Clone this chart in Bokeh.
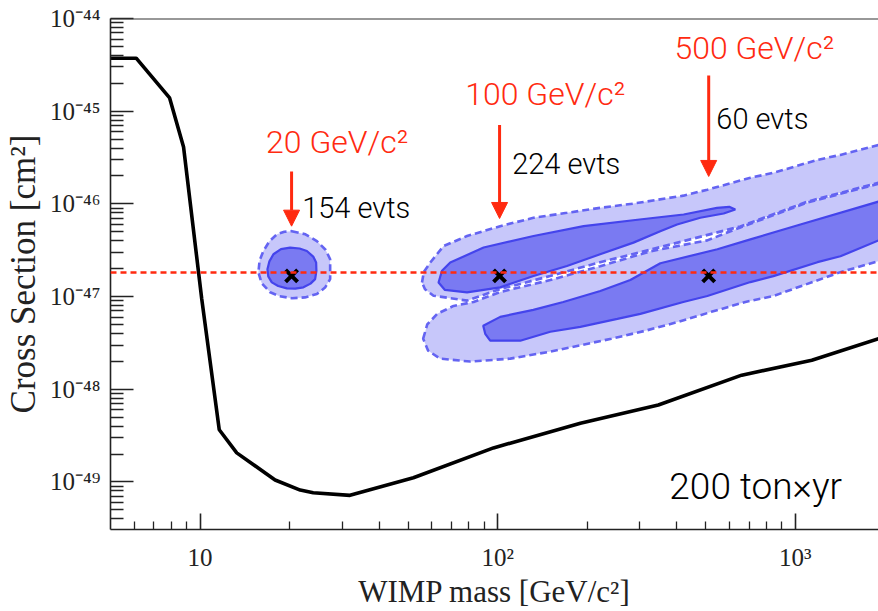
import math
from bokeh.plotting import figure
from bokeh.models import Range1d, FixedTicker, Label, Span, Arrow, NormalHead, ColumnDataSource
from bokeh.embed import file_html
from bokeh.resources import INLINE

# ---------------- data ----------------
X_MIN, X_MAX = 5.0, 1905.0          # WIMP mass range [GeV/c^2]
Y_MIN, Y_MAX = 3.07e-50, 1.0e-44    # cross-section range [cm^2]

# 200 ton x yr sensitivity curve
limit_mass = [5.0, 6.1, 7.9, 8.8, 10.13, 11.6, 13.28, 17.87, 21.7, 24.0, 31.9, 52.1,
              96.8, 189.7, 346.7, 661.0, 1137.0, 1906.0]
limit_sigma = [3.73e-45, 3.73e-45, 1.39e-45, 4.1e-46, 9.4e-48, 3.66e-49, 2.06e-49,
               1.05e-49, 8.18e-50, 7.66e-50, 7.17e-50, 1.11e-49, 2.33e-49, 4.31e-49,
               6.77e-49, 1.42e-48, 2.06e-48, 3.51e-48]

true_sigma = 1.82e-47               # injected cross-section (red dashed)

bench_mass = [20.3, 101.5, 512.0]   # benchmark masses (x markers)
bench_sigma = [1.67e-47, 1.67e-47, 1.67e-47]
bench_labels = ["20 GeV/c\u00b2", "100 GeV/c\u00b2", "500 GeV/c\u00b2"]
bench_events = ["154 evts", "224 evts", "60 evts"]

# 20 GeV/c^2 reconstructed regions
c20_outer_mass = [20.34, 22.6, 24.69, 26.4, 27.36, 27.36, 26.3, 24.69, 22.5, 20.34, 18.5,
                  17.20, 16.1, 15.70, 15.85, 16.32, 17.1, 18.11, 19.2]
c20_outer_sigma = [5.08e-47, 4.7e-47, 3.97e-47, 3.2e-47, 2.53e-47, 1.544e-47, 1.25e-47,
                   1.066e-47, 9.8e-48, 9.59e-48, 1.01e-47, 1.112e-47, 1.4e-47, 1.822e-47,
                   2.45e-47, 3.10e-47, 3.95e-47, 4.69e-47, 5.0e-47]
c20_inner_mass = [20.07, 21.6, 22.85, 24.0, 24.55, 24.6, 24.36, 23.5, 22.25, 20.9, 19.57,
                  18.3, 17.42, 16.95, 16.84, 17.1, 17.64, 18.7]
c20_inner_sigma = [3.38e-47, 3.3e-47, 3.10e-47, 2.7e-47, 2.33e-47, 1.9e-47, 1.544e-47,
                   1.38e-47, 1.258e-47, 1.22e-47, 1.227e-47, 1.3e-47, 1.423e-47, 1.65e-47,
                   1.976e-47, 2.4e-47, 2.86e-47, 3.25e-47]

# 100 GeV/c^2 reconstructed regions
c100_outer_mass = [55.7, 56.5, 59.4, 65.8, 78.9, 102.0, 132.0, 171.0, 221.0, 286.0, 421.0,
                   507.0, 707.0, 845.0, 1188.0, 1419.0, 1905.0, 2258.0,
                   2258.0, 1905.0, 1099.0, 654.0, 302.0, 221.0, 150.0, 102.0, 78.9, 60.9,
                   57.0]
c100_outer_sigma = [1.42e-47, 1.85e-47, 2.33e-47, 3.51e-47, 4.50e-47, 5.75e-47, 7.08e-47,
                    8.01e-47, 9.06e-47, 1.007e-46, 1.227e-46, 1.423e-46, 1.913e-46,
                    2.164e-46, 2.985e-46, 3.377e-46, 4.32e-46, 5.01e-46,
                    1.962e-46, 1.692e-46, 1.058e-46, 5.71e-47, 3.01e-47, 2.35e-47,
                    1.663e-47, 1.207e-47, 9.04e-48, 1.022e-47, 1.2e-47]
c100_inner_mass = [63.3, 65.0, 69.3, 89.7, 132.0, 194.5, 300.0, 421.8, 546.0, 600.0, 629.0,
                   575.0, 479.8, 400.8, 352.0, 286.0, 221.0, 171.0, 132.0, 102.0, 78.9,
                   66.5]
c100_inner_sigma = [1.42e-47, 1.9e-47, 2.33e-47, 3.38e-47, 4.50e-47, 5.75e-47, 6.79e-47,
                    7.68e-47, 9.06e-47, 9.3e-47, 8.69e-47, 7.87e-47, 7.08e-47, 6.00e-47,
                    5.08e-47, 3.82e-47, 2.86e-47, 2.14e-47, 1.67e-47, 1.258e-47, 1.112e-47,
                    1.18e-47]

# 500 GeV/c^2 reconstructed regions
c500_outer_mass = [56.2, 58.0, 62.65, 71.1, 83.0, 102.0, 150.3, 221.3, 326.0, 506.7, 654.0,
                   1099.0, 1905.0, 2258.0,
                   2258.0, 1905.0, 1419.0, 844.8, 680.0, 522.8, 404.9, 313.5, 241.0,
                   186.6, 150.3, 110.3, 80.9, 64.1, 58.4]
c500_outer_sigma = [3.51e-48, 5.0e-48, 6.51e-48, 7.93e-48, 8.75e-48, 1.12e-47, 1.507e-47,
                    2.13e-47, 3.08e-47, 4.04e-47, 5.57e-47, 1.033e-46, 1.65e-46, 1.913e-46,
                    2.86e-47, 2.41e-47, 1.835e-47, 1.015e-47, 8.75e-48, 6.84e-48,
                    5.34e-48, 4.28e-48, 3.51e-48, 2.95e-48, 2.55e-48, 2.14e-48,
                    1.99e-48, 2.14e-48, 2.61e-48]
c500_inner_mass = [89.45, 102.0, 131.8, 166.2, 221.3, 279.2, 352.2, 547.6, 707.1, 1041.0,
                   1905.0, 2258.0,
                   2258.0, 1905.0, 1419.0, 1188.0, 844.8, 707.1, 506.7, 420.7, 301.7,
                   252.5, 189.6, 150.3, 119.1, 94.4, 90.85]
c500_inner_sigma = [4.84e-48, 6.04e-48, 7.18e-48, 8.75e-48, 1.148e-47, 1.507e-47, 2.29e-47,
                    3.24e-47, 4.14e-47, 6.00e-47, 1.058e-46, 1.227e-46,
                    4.69e-47, 4.04e-47, 2.72e-47, 2.35e-47, 1.663e-47, 1.434e-47,
                    1.015e-47, 8.75e-48, 6.51e-48, 5.75e-48, 4.72e-48, 4.17e-48,
                    3.34e-48, 3.34e-48, 3.97e-48]

# annotation anchors (data coordinates, text centres)
arrow_top = [2.235e-46, 7.08e-46, 2.43e-45]
arrow_tip = [5.75e-47, 6.96e-47, 1.977e-46]
label_mass = [16.67, 77.8, 392.6]
label_sigma = [4.71e-46, 1.521e-45, 4.85e-45]
events_mass = [22.03, 111.9, 543.0]
events_sigma = [9.02e-47, 2.70e-46, 8.31e-46]
exposure_text = "200 ton\u00d7yr"
exposure_mass, exposure_sigma = 377.6, 8.88e-50

x_major = [10, 100, 1000]
x_major_text = ["10", "10\u00b2", "10\u00b3"]
x_minor = [6, 7, 8, 9, 20, 30, 40, 50, 60, 70, 80, 90,
           200, 300, 400, 500, 600, 700, 800, 900]
y_major = [1e-49, 1e-48, 1e-47, 1e-46, 1e-45, 1e-44]
y_major_text = ["10\u207b\u2074\u2079", "10\u207b\u2074\u2078", "10\u207b\u2074\u2077",
                "10\u207b\u2074\u2076", "10\u207b\u2074\u2075", "10\u207b\u2074\u2074"]
y_minor = [k * 10.0 ** n for n in range(-51, -44) for k in range(2, 10)
           if Y_MIN < k * 10.0 ** n < Y_MAX]

x_title = "WIMP mass [GeV/c\u00b2]"
y_title = "Cross Section [cm\u00b2]"

# ---------------- styles ----------------
RED = "#ff2a10"
OUTER_FILL = "#4646f0"
INNER_FILL = "#7a7af2"
OUTER_LINE = "#6464f2"
INNER_LINE = "#4444ec"
SERIF = "Liberation Serif"
SANS = "Roboto Light, Roboto, sans-serif"
AXIS_COLOR = "#222222"

p = figure(width=878, height=611, x_axis_type="log", y_axis_type="log",
           x_range=Range1d(X_MIN, X_MAX), y_range=Range1d(Y_MIN, Y_MAX),
           output_backend="svg", toolbar_location=None,
           min_border_left=110, min_border_right=0, min_border_top=18, min_border_bottom=79)
p.outline_line_color = None
p.grid.visible = False
p.background_fill_color = "white"
p.border_fill_color = "white"

for ax, ticks, minors, texts, tin, tmin in (
        (p.xaxis, x_major, x_minor, x_major_text, 16, 8),
        (p.yaxis, y_major, y_minor, y_major_text, 23, 13)):
    ax.ticker = FixedTicker(ticks=ticks, minor_ticks=minors)
    ax.major_label_overrides = {t: s for t, s in zip(ticks, texts)}
    ax.major_tick_in = tin
    ax.major_tick_out = 0
    ax.minor_tick_in = tmin
    ax.minor_tick_out = 0
    ax.axis_line_width = 1.6
    ax.axis_line_color = AXIS_COLOR
    ax.major_tick_line_width = 1.6
    ax.major_tick_line_color = AXIS_COLOR
    ax.minor_tick_line_width = 1.3
    ax.minor_tick_line_color = AXIS_COLOR
    ax.major_label_text_font = SERIF
    ax.major_label_text_font_size = "25px"
    ax.major_label_text_color = AXIS_COLOR
    ax.axis_label_text_font = SERIF
    ax.axis_label_text_font_style = "normal"
    ax.axis_label_text_color = AXIS_COLOR

p.xaxis.major_label_standoff = 14
p.xaxis.axis_label = x_title
p.xaxis.axis_label_text_font_size = "31px"
p.xaxis.axis_label_standoff = 0
p.yaxis.major_label_standoff = 10
p.yaxis.axis_label = y_title
p.yaxis.axis_label_text_font_size = "35px"
p.yaxis.axis_label_standoff = 4

p.add_layout(Span(location=Y_MAX, dimension="width", line_color="#333333", line_width=2))

# contours: outer (light, dashed) then inner (dark, solid)
for mx, sy in ((c20_outer_mass, c20_outer_sigma), (c100_outer_mass, c100_outer_sigma),
               (c500_outer_mass, c500_outer_sigma)):
    p.patch(mx, sy, fill_color=OUTER_FILL, fill_alpha=0.30, line_color=OUTER_LINE,
            line_width=2.6, line_dash="7 4")
for mx, sy in ((c20_inner_mass, c20_inner_sigma), (c100_inner_mass, c100_inner_sigma),
               (c500_inner_mass, c500_inner_sigma)):
    p.patch(mx, sy, fill_color=INNER_FILL, fill_alpha=1.0, line_color=INNER_LINE,
            line_width=2.2)

p.line(limit_mass, limit_sigma, line_color="black", line_width=3.6)
p.add_layout(Span(location=true_sigma, dimension="width", line_color=RED,
                  line_width=2.5, line_dash="6 4"))
p.scatter(bench_mass, bench_sigma, marker="x", size=17, line_color="black", line_width=4)

arrows = ColumnDataSource(dict(x0=bench_mass, y0=arrow_top, x1=bench_mass, y1=arrow_tip))
p.add_layout(Arrow(source=arrows, x_start="x0", y_start="y0", x_end="x1", y_end="y1",
                   line_color=RED, line_width=3,
                   end=NormalHead(size=16, fill_color=RED, line_color=RED, line_width=1)))

for m, s, t in zip(label_mass, label_sigma, bench_labels):
    p.add_layout(Label(x=m, y=s, text=t, text_font=SANS, text_font_size="32px",
                       text_color=RED, text_baseline="middle", text_align="left"))
for m, s, t in zip(events_mass, events_sigma, bench_events):
    p.add_layout(Label(x=m, y=s, text=t, text_font=SANS, text_font_size="29px",
                       text_color="black", text_baseline="middle", text_align="left"))
p.add_layout(Label(x=exposure_mass, y=exposure_sigma, text=exposure_text, text_font=SANS,
                   text_font_size="37px", text_color="black", text_baseline="middle",
                   text_align="left"))

open("out.html", "w").write(file_html(p, INLINE))
